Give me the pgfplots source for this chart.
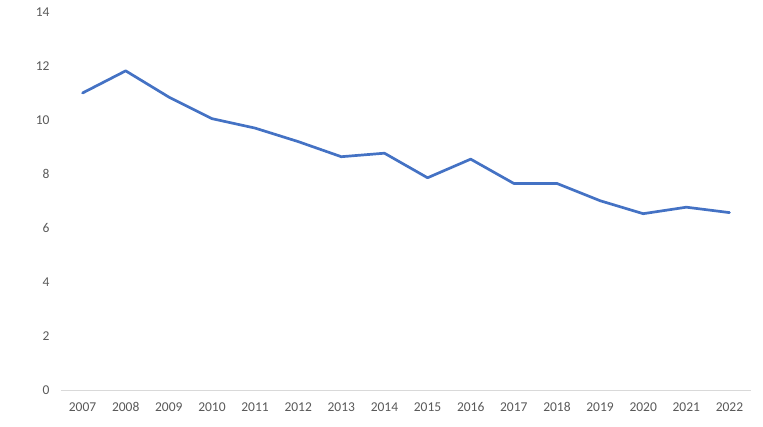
\documentclass[border=0pt]{standalone}
\usepackage{fontspec}
\setmainfont{Carlito}
\usepackage{pgfplots}
\pgfplotsset{compat=1.18}
\definecolor{linecol}{HTML}{4472C4}
\definecolor{ticktext}{HTML}{595959}
\definecolor{axisgray}{HTML}{D9D9D9}
\begin{document}
\begin{tikzpicture}
\begin{axis}[
  scale only axis,
  width=690pt, height=378pt,
  xmin=-0.5, xmax=15.5,
  ymin=0, ymax=14,
  ytick={0,2,...,14},
  xtick={0,...,15},
  xticklabels={2007,2008,2009,2010,2011,2012,2013,2014,2015,2016,2017,2018,2019,2020,2021,2022},
  axis y line*=left,
  axis x line*=bottom,
  y axis line style={draw=none},
  x axis line style={draw=axisgray, line width=0.9pt, -},
  major tick length=0pt,
  tick label style={font=\fontsize{13.5}{15}\selectfont, text=ticktext},
  /pgf/number format/assume math mode=true,
  xticklabel style={text height=9pt, text depth=0pt, yshift=-9pt},
  yticklabel style={xshift=-8pt},
  clip=false,
]
\addplot[color=linecol, line width=2.7pt, line join=round, line cap=round] coordinates {
(0,11.00) (1,11.82) (2,10.85) (3,10.05) (4,9.70) (5,9.20) (6,8.64) (7,8.77)
(8,7.86) (9,8.55) (10,7.65) (11,7.65) (12,7.01) (13,6.53) (14,6.77) (15,6.57)
};
\end{axis}
\path[use as bounding box] (current axis.south west) ++(-61pt,-37pt) rectangle ++(763pt,427pt);
\end{tikzpicture}
\end{document}
